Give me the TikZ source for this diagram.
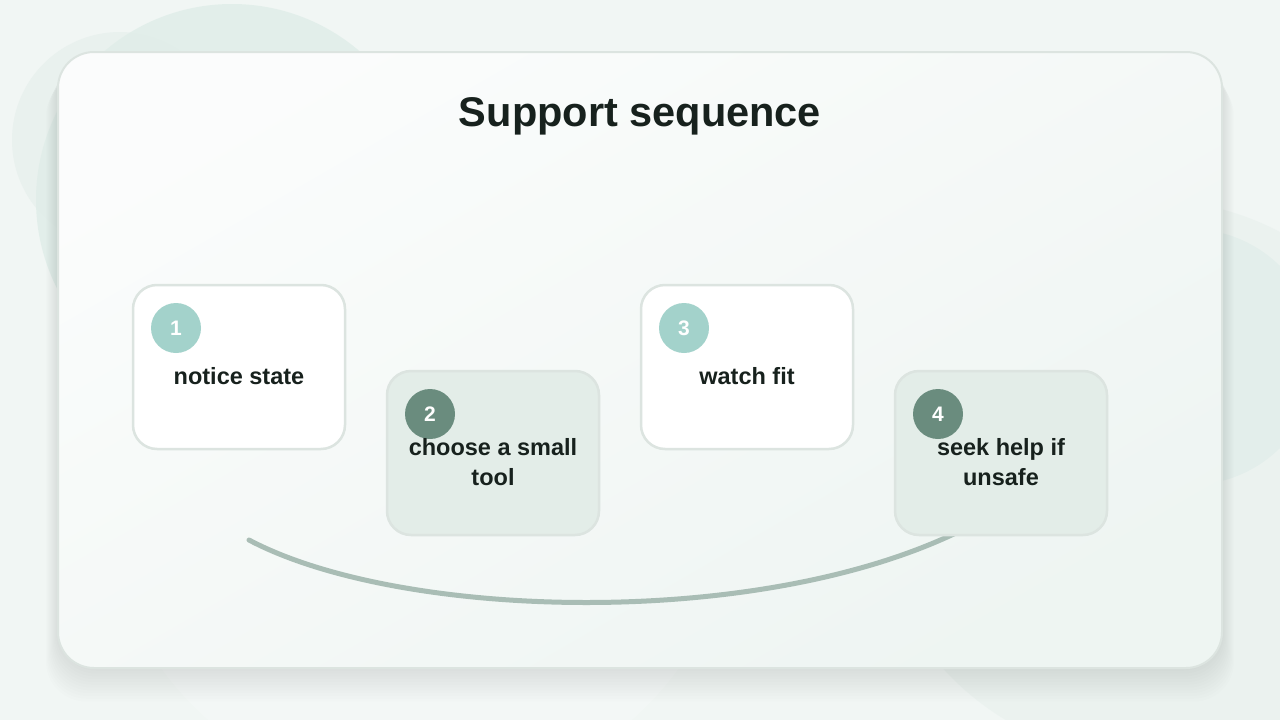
\documentclass[tikz,border=0pt]{standalone}
\usepackage{fontspec}
\setmainfont{Liberation Sans}
\usepackage{xcolor}
\usetikzlibrary{positioning}
\definecolor{bgcol}{HTML}{F1F6F4}
\definecolor{blobA}{HTML}{E9F1EE}
\definecolor{blobB}{HTML}{DFEDE8}
\definecolor{blobC}{HTML}{D8E9E4}
\definecolor{panelline}{HTML}{DCE4E0}
\definecolor{cardline}{HTML}{DCE4E0}
\definecolor{cardtint}{HTML}{E3EDE8}
\definecolor{badgelight}{HTML}{A3D2CB}
\definecolor{badgedark}{HTML}{6A8C7E}
\definecolor{inkcol}{HTML}{17211D}
\definecolor{arccol}{HTML}{A9BDB5}

\tikzset{
  card/.style={draw=cardline, line width=2.5pt, rounded corners=24pt,
    minimum width=212pt, minimum height=164pt, inner sep=0pt},
  badge/.style={circle, minimum size=50pt, inner sep=0pt, text=white,
    font=\fontsize{21}{24}\selectfont\bfseries},
  steptext/.style={text=inkcol, align=center, inner sep=0pt,
    font=\fontsize{23.5}{30}\selectfont\bfseries},
  arcline/.style={arccol, line width=5pt, line cap=round}
}

\begin{document}
\begin{tikzpicture}[x=1pt,y=-1pt]

% Sfondo
\useasboundingbox (0,0) rectangle (1280,720);
\clip (0,0) rectangle (1280,720);
\fill[bgcol] (0,0) rectangle (1280,720);

% Macchie di colore
\fill[blobA] (120,140) circle (108);
\fill[blobB, opacity=0.8] (232,200) circle (196);
\fill[blobC] (1190,357) circle (128);
\fill[blobA, opacity=0.7] (1150,480) circle (280);
\fill[white, opacity=0.2] (420,480) circle (320);

% Ombra del pannello
\foreach \s in {2,4,...,24}
    \fill[inkcol, opacity=0.007, rounded corners=40pt]
        (58-\s/2,52+\s) rectangle (1222+\s/2,668+\s*1.4);

% Pannello
\shade[rounded corners=36pt, top color=white!70!bgcol, bottom color=bgcol!85!blobB,
       shading angle=30] (58,52) rectangle (1222,668);
\draw[panelline, line width=2pt, rounded corners=36pt] (58,52) rectangle (1222,668);

\node[text=inkcol, font=\fontsize{41.5}{49}\selectfont\bfseries] (title) at (640,116) {Support sequence};

% Arco di collegamento
\coordinate (arcL) at (249,540);
\coordinate (arcR) at (962,530);
\draw[arcline] (arcL) .. controls (400,620) and (760,630) .. (arcR);

% Schede
\node[card, fill=white] (c1) at (239,367) {};
\node[card, fill=cardtint] (c2) at (493,453) {};
\node[card, fill=white] (c3) at (747,367) {};
\node[card, fill=cardtint] (c4) at (1001,453) {};

% Numeri
\node[badge, fill=badgelight] (b1) at (176,328) {1};
\node[badge, fill=badgedark] (b2) at (430,414) {2};
\node[badge, fill=badgelight] (b3) at (684,328) {3};
\node[badge, fill=badgedark] (b4) at (938,414) {4};

% Testi
\node[steptext] (t1) at (239,376) {notice state};
\node[steptext] (t2) at (493,462) {choose a small\\tool};
\node[steptext] (t3) at (747,376) {watch fit};
\node[steptext] (t4) at (1001,462) {seek help if\\unsafe};
\end{tikzpicture}
\end{document}
